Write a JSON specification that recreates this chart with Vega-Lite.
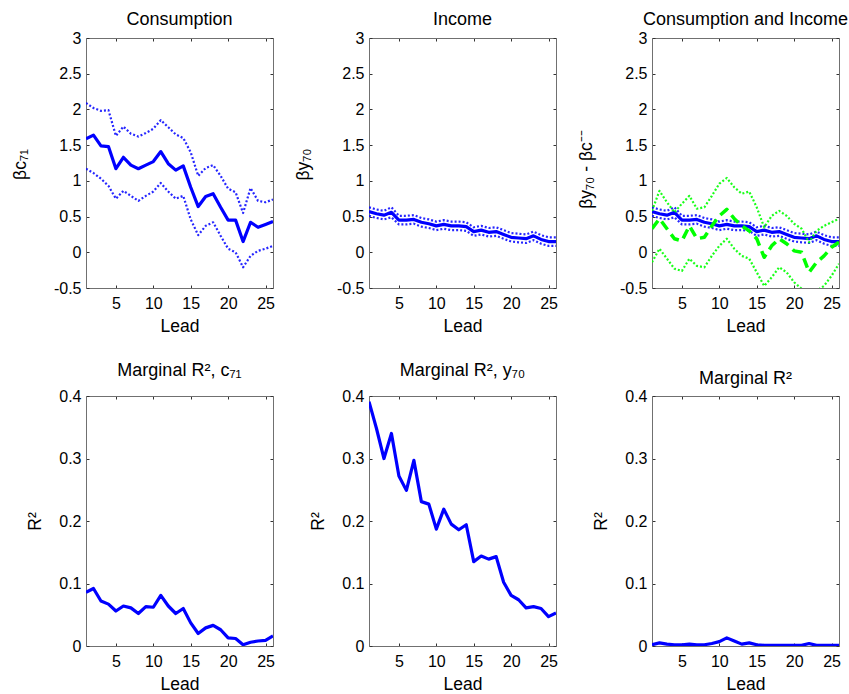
{
  "$schema": "https://vega.github.io/schema/vega-lite/v6.json",
  "background": "white",
  "padding": {"left": 11, "top": 11, "right": 0, "bottom": 0},
  "datasets": {
    "d": [
      {"lead":1,"c":1.59,"cu":2.09,"cl":1.17,"y":0.57,"yu":0.63,"yl":0.51,"g":0.33,"gu":0.58,"gl":-0.14,"r2c":0.086,"r2y":0.391,"r2":0.002},
      {"lead":2,"c":1.64,"cu":2.02,"cl":1.11,"y":0.54,"yu":0.60,"yl":0.48,"g":0.47,"gu":0.86,"gl":0.05,"r2c":0.092,"r2y":0.348,"r2":0.005},
      {"lead":3,"c":1.49,"cu":1.98,"cl":1.03,"y":0.52,"yu":0.58,"yl":0.46,"g":0.33,"gu":0.70,"gl":-0.09,"r2c":0.072,"r2y":0.300,"r2":0.003},
      {"lead":4,"c":1.48,"cu":1.99,"cl":0.93,"y":0.56,"yu":0.63,"yl":0.49,"g":0.19,"gu":0.56,"gl":-0.23,"r2c":0.067,"r2y":0.340,"r2":0.002},
      {"lead":5,"c":1.17,"cu":1.63,"cl":0.75,"y":0.45,"yu":0.51,"yl":0.39,"g":0.16,"gu":0.68,"gl":-0.26,"r2c":0.056,"r2y":0.272,"r2":0.002},
      {"lead":6,"c":1.33,"cu":1.76,"cl":0.86,"y":0.45,"yu":0.51,"yl":0.39,"g":0.37,"gu":0.79,"gl":-0.09,"r2c":0.064,"r2y":0.249,"r2":0.003},
      {"lead":7,"c":1.22,"cu":1.66,"cl":0.79,"y":0.46,"yu":0.52,"yl":0.40,"g":0.19,"gu":0.61,"gl":-0.19,"r2c":0.061,"r2y":0.297,"r2":0.002},
      {"lead":8,"c":1.17,"cu":1.62,"cl":0.72,"y":0.42,"yu":0.48,"yl":0.36,"g":0.21,"gu":0.63,"gl":-0.21,"r2c":0.052,"r2y":0.231,"r2":0.002},
      {"lead":9,"c":1.22,"cu":1.67,"cl":0.79,"y":0.40,"yu":0.46,"yl":0.34,"g":0.37,"gu":0.79,"gl":-0.05,"r2c":0.063,"r2y":0.227,"r2":0.004},
      {"lead":10,"c":1.27,"cu":1.73,"cl":0.85,"y":0.37,"yu":0.43,"yl":0.31,"g":0.51,"gu":0.96,"gl":0.09,"r2c":0.062,"r2y":0.187,"r2":0.007},
      {"lead":11,"c":1.41,"cu":1.85,"cl":0.97,"y":0.39,"yu":0.45,"yl":0.33,"g":0.60,"gu":1.04,"gl":0.19,"r2c":0.081,"r2y":0.219,"r2":0.013},
      {"lead":12,"c":1.24,"cu":1.75,"cl":0.85,"y":0.37,"yu":0.43,"yl":0.31,"g":0.47,"gu":0.91,"gl":0.05,"r2c":0.064,"r2y":0.195,"r2":0.008},
      {"lead":13,"c":1.15,"cu":1.65,"cl":0.75,"y":0.37,"yu":0.43,"yl":0.31,"g":0.37,"gu":0.82,"gl":-0.05,"r2c":0.052,"r2y":0.186,"r2":0.003},
      {"lead":14,"c":1.21,"cu":1.60,"cl":0.79,"y":0.36,"yu":0.42,"yl":0.30,"g":0.30,"gu":0.85,"gl":-0.09,"r2c":0.060,"r2y":0.194,"r2":0.005},
      {"lead":15,"c":0.91,"cu":1.40,"cl":0.46,"y":0.29,"yu":0.35,"yl":0.23,"g":0.19,"gu":0.63,"gl":-0.28,"r2c":0.037,"r2y":0.135,"r2":0.002},
      {"lead":16,"c":0.64,"cu":1.07,"cl":0.24,"y":0.31,"yu":0.37,"yl":0.25,"g":-0.07,"gu":0.35,"gl":-0.47,"r2c":0.020,"r2y":0.144,"r2":0.001},
      {"lead":17,"c":0.78,"cu":1.18,"cl":0.37,"y":0.28,"yu":0.34,"yl":0.22,"g":0.09,"gu":0.51,"gl":-0.35,"r2c":0.029,"r2y":0.139,"r2":0.001},
      {"lead":18,"c":0.82,"cu":1.22,"cl":0.42,"y":0.29,"yu":0.35,"yl":0.23,"g":0.19,"gu":0.58,"gl":-0.21,"r2c":0.033,"r2y":0.143,"r2":0.001},
      {"lead":19,"c":0.63,"cu":1.07,"cl":0.23,"y":0.25,"yu":0.31,"yl":0.19,"g":0.12,"gu":0.51,"gl":-0.28,"r2c":0.026,"r2y":0.102,"r2":0.001},
      {"lead":20,"c":0.45,"cu":0.89,"cl":0.05,"y":0.21,"yu":0.27,"yl":0.15,"g":0.02,"gu":0.40,"gl":-0.42,"r2c":0.013,"r2y":0.081,"r2":0.001},
      {"lead":21,"c":0.45,"cu":0.84,"cl":0.00,"y":0.20,"yu":0.26,"yl":0.14,"g":0.00,"gu":0.33,"gl":-0.51,"r2c":0.012,"r2y":0.074,"r2":0.001},
      {"lead":22,"c":0.15,"cu":0.55,"cl":-0.21,"y":0.19,"yu":0.25,"yl":0.13,"g":-0.28,"gu":0.14,"gl":-0.65,"r2c":0.002,"r2y":0.061,"r2":0.004},
      {"lead":23,"c":0.42,"cu":0.90,"cl":-0.05,"y":0.23,"yu":0.29,"yl":0.17,"g":-0.14,"gu":0.30,"gl":-0.54,"r2c":0.006,"r2y":0.063,"r2":0.001},
      {"lead":24,"c":0.35,"cu":0.72,"cl":0.02,"y":0.18,"yu":0.24,"yl":0.12,"g":-0.05,"gu":0.37,"gl":-0.47,"r2c":0.008,"r2y":0.060,"r2":0.001},
      {"lead":25,"c":0.39,"cu":0.70,"cl":0.05,"y":0.15,"yu":0.21,"yl":0.09,"g":0.07,"gu":0.42,"gl":-0.33,"r2c":0.009,"r2y":0.047,"r2":0.001},
      {"lead":26,"c":0.43,"cu":0.74,"cl":0.09,"y":0.15,"yu":0.21,"yl":0.09,"g":0.14,"gu":0.47,"gl":-0.16,"r2c":0.016,"r2y":0.053,"r2":0.001}
    ]
  },
  "data": {"name": "d"},
  "config": {
    "view": {"stroke": null},
    "font": "Liberation Sans",
    "axis": {
      "grid": false,
      "labelFont": "Liberation Sans",
      "labelFontSize": 16,
      "labelColor": "#000",
      "titleFont": "Liberation Sans",
      "titleFontSize": 17.5,
      "titleFontWeight": "normal",
      "titleColor": "#000",
      "tickSize": -3,
      "tickColor": "#333",
      "tickWidth": 1,
      "domainColor": "#707070",
      "domainWidth": 1,
      "labelFlush": false,
      "labelOverlap": false
    },
    "axisX": {"labelPadding": 10, "titleBaseline": "alphabetic", "titleAlign": "center"},
    "axisY": {"labelPadding": 8, "titleBaseline": "alphabetic", "titleAlign": "center", "titleAngle": -90,
      "labelExpr": "replace(format(datum.value, '~g'), '−', '-')"},
    "title": {"font": "Liberation Sans", "fontSize": 18, "fontWeight": "normal", "color": "#000", "anchor": "middle", "frame": "group", "baseline": "alphabetic"},
    "line": {"strokeCap": "butt", "strokeJoin": "round"}
  },
  "columns": 3,
  "spacing": {"row": 108, "column": 96},
  "bounds": "flush",
  "concat": [
    {
      "width": 187, "height": 250,
      "title": {"text": "Consumption", "offset": 1},
      "layer": [
        {"layer": [
          {"mark": {"type": "line", "color": "#0000ff", "strokeWidth": 2.2, "strokeDash": [2, 2], "opacity": 0.85, "clip": true},
           "encoding": {
             "x": {"field": "lead", "type": "quantitative", "scale": {"domain": [1, 26], "nice": false, "zero": false}, "axis": {"values": [5, 10, 15, 20, 25], "title": "Lead", "titleY": 43}},
             "y": {"field": "cu", "type": "quantitative", "scale": {"domain": [-0.5, 3], "nice": false, "zero": false}, "axis": {"values": [-0.5, 0, 0.5, 1, 1.5, 2, 2.5, 3], "title": "βc₇₁", "titleX": -61, "titleY": 126}}}},
          {"mark": {"type": "line", "color": "#0000ff", "strokeWidth": 2.2, "strokeDash": [2, 2], "opacity": 0.85, "clip": true},
           "encoding": {
             "x": {"field": "lead", "type": "quantitative", "scale": {"domain": [1, 26], "nice": false, "zero": false}, "axis": {"values": [5, 10, 15, 20, 25], "title": "Lead", "titleY": 43}},
             "y": {"field": "cl", "type": "quantitative", "scale": {"domain": [-0.5, 3], "nice": false, "zero": false}, "axis": {"values": [-0.5, 0, 0.5, 1, 1.5, 2, 2.5, 3], "title": "βc₇₁", "titleX": -61, "titleY": 126}}}},
          {"mark": {"type": "line", "color": "#0000ff", "strokeWidth": 3.2, "clip": true},
           "encoding": {
             "x": {"field": "lead", "type": "quantitative", "scale": {"domain": [1, 26], "nice": false, "zero": false}, "axis": {"values": [5, 10, 15, 20, 25], "title": "Lead", "titleY": 43}},
             "y": {"field": "c", "type": "quantitative", "scale": {"domain": [-0.5, 3], "nice": false, "zero": false}, "axis": {"values": [-0.5, 0, 0.5, 1, 1.5, 2, 2.5, 3], "title": "βc₇₁", "titleX": -61, "titleY": 126}}}}
        ]},
        {"mark": {"type": "point", "opacity": 0},
         "encoding": {
           "x": {"field": "lead", "type": "quantitative", "scale": {"domain": [1, 26], "nice": false, "zero": false}, "axis": {"orient": "top", "values": [5, 10, 15, 20, 25], "labels": false, "title": null}},
           "y": {"field": "c", "type": "quantitative", "scale": {"domain": [-0.5, 3], "nice": false, "zero": false}, "axis": {"orient": "right", "values": [-0.5, 0, 0.5, 1, 1.5, 2, 2.5, 3], "labels": false, "title": null}}}}
      ],
      "resolve": {"scale": {"x": "independent", "y": "independent"}}
    },
    {
      "width": 187, "height": 250,
      "title": {"text": "Income", "offset": 1},
      "layer": [
        {"layer": [
          {"mark": {"type": "line", "color": "#0000ff", "strokeWidth": 2.2, "strokeDash": [2, 2], "opacity": 0.85, "clip": true},
           "encoding": {
             "x": {"field": "lead", "type": "quantitative", "scale": {"domain": [1, 26], "nice": false, "zero": false}, "axis": {"values": [5, 10, 15, 20, 25], "title": "Lead", "titleY": 43}},
             "y": {"field": "yu", "type": "quantitative", "scale": {"domain": [-0.5, 3], "nice": false, "zero": false}, "axis": {"values": [-0.5, 0, 0.5, 1, 1.5, 2, 2.5, 3], "title": "βy₇₀", "titleX": -61, "titleY": 126}}}},
          {"mark": {"type": "line", "color": "#0000ff", "strokeWidth": 2.2, "strokeDash": [2, 2], "opacity": 0.85, "clip": true},
           "encoding": {
             "x": {"field": "lead", "type": "quantitative", "scale": {"domain": [1, 26], "nice": false, "zero": false}, "axis": {"values": [5, 10, 15, 20, 25], "title": "Lead", "titleY": 43}},
             "y": {"field": "yl", "type": "quantitative", "scale": {"domain": [-0.5, 3], "nice": false, "zero": false}, "axis": {"values": [-0.5, 0, 0.5, 1, 1.5, 2, 2.5, 3], "title": "βy₇₀", "titleX": -61, "titleY": 126}}}},
          {"mark": {"type": "line", "color": "#0000ff", "strokeWidth": 3.2, "clip": true},
           "encoding": {
             "x": {"field": "lead", "type": "quantitative", "scale": {"domain": [1, 26], "nice": false, "zero": false}, "axis": {"values": [5, 10, 15, 20, 25], "title": "Lead", "titleY": 43}},
             "y": {"field": "y", "type": "quantitative", "scale": {"domain": [-0.5, 3], "nice": false, "zero": false}, "axis": {"values": [-0.5, 0, 0.5, 1, 1.5, 2, 2.5, 3], "title": "βy₇₀", "titleX": -61, "titleY": 126}}}}
        ]},
        {"mark": {"type": "point", "opacity": 0},
         "encoding": {
           "x": {"field": "lead", "type": "quantitative", "scale": {"domain": [1, 26], "nice": false, "zero": false}, "axis": {"orient": "top", "values": [5, 10, 15, 20, 25], "labels": false, "title": null}},
           "y": {"field": "y", "type": "quantitative", "scale": {"domain": [-0.5, 3], "nice": false, "zero": false}, "axis": {"orient": "right", "values": [-0.5, 0, 0.5, 1, 1.5, 2, 2.5, 3], "labels": false, "title": null}}}}
      ],
      "resolve": {"scale": {"x": "independent", "y": "independent"}}
    },
    {
      "width": 187, "height": 250,
      "title": {"text": "Consumption and Income", "offset": 1},
      "layer": [
        {"layer": [
          {"mark": {"type": "line", "color": "#0000ff", "strokeWidth": 2.2, "strokeDash": [2, 2], "opacity": 0.85, "clip": true},
           "encoding": {
             "x": {"field": "lead", "type": "quantitative", "scale": {"domain": [1, 26], "nice": false, "zero": false}, "axis": {"values": [5, 10, 15, 20, 25], "title": "Lead", "titleY": 43}},
             "y": {"field": "yu", "type": "quantitative", "scale": {"domain": [-0.5, 3], "nice": false, "zero": false}, "axis": {"values": [-0.5, 0, 0.5, 1, 1.5, 2, 2.5, 3], "title": "βy₇₀ -  βc⁻⁻", "titleX": -61, "titleY": 131}}}},
          {"mark": {"type": "line", "color": "#0000ff", "strokeWidth": 2.2, "strokeDash": [2, 2], "opacity": 0.85, "clip": true},
           "encoding": {
             "x": {"field": "lead", "type": "quantitative", "scale": {"domain": [1, 26], "nice": false, "zero": false}, "axis": {"values": [5, 10, 15, 20, 25], "title": "Lead", "titleY": 43}},
             "y": {"field": "yl", "type": "quantitative", "scale": {"domain": [-0.5, 3], "nice": false, "zero": false}, "axis": {"values": [-0.5, 0, 0.5, 1, 1.5, 2, 2.5, 3], "title": "βy₇₀ -  βc⁻⁻", "titleX": -61, "titleY": 131}}}},
          {"mark": {"type": "line", "color": "#0000ff", "strokeWidth": 3.2, "clip": true},
           "encoding": {
             "x": {"field": "lead", "type": "quantitative", "scale": {"domain": [1, 26], "nice": false, "zero": false}, "axis": {"values": [5, 10, 15, 20, 25], "title": "Lead", "titleY": 43}},
             "y": {"field": "y", "type": "quantitative", "scale": {"domain": [-0.5, 3], "nice": false, "zero": false}, "axis": {"values": [-0.5, 0, 0.5, 1, 1.5, 2, 2.5, 3], "title": "βy₇₀ -  βc⁻⁻", "titleX": -61, "titleY": 131}}}},
          {"mark": {"type": "line", "color": "#00ff00", "strokeWidth": 2.2, "strokeDash": [2, 2], "opacity": 0.9, "clip": true},
           "encoding": {
             "x": {"field": "lead", "type": "quantitative", "scale": {"domain": [1, 26], "nice": false, "zero": false}, "axis": {"values": [5, 10, 15, 20, 25], "title": "Lead", "titleY": 43}},
             "y": {"field": "gu", "type": "quantitative", "scale": {"domain": [-0.5, 3], "nice": false, "zero": false}, "axis": {"values": [-0.5, 0, 0.5, 1, 1.5, 2, 2.5, 3], "title": "βy₇₀ -  βc⁻⁻", "titleX": -61, "titleY": 131}}}},
          {"mark": {"type": "line", "color": "#00ff00", "strokeWidth": 2.2, "strokeDash": [2, 2], "opacity": 0.9, "clip": true},
           "encoding": {
             "x": {"field": "lead", "type": "quantitative", "scale": {"domain": [1, 26], "nice": false, "zero": false}, "axis": {"values": [5, 10, 15, 20, 25], "title": "Lead", "titleY": 43}},
             "y": {"field": "gl", "type": "quantitative", "scale": {"domain": [-0.5, 3], "nice": false, "zero": false}, "axis": {"values": [-0.5, 0, 0.5, 1, 1.5, 2, 2.5, 3], "title": "βy₇₀ -  βc⁻⁻", "titleX": -61, "titleY": 131}}}},
          {"mark": {"type": "line", "color": "#00ff00", "strokeWidth": 3.5, "strokeDash": [10, 6], "clip": true},
           "encoding": {
             "x": {"field": "lead", "type": "quantitative", "scale": {"domain": [1, 26], "nice": false, "zero": false}, "axis": {"values": [5, 10, 15, 20, 25], "title": "Lead", "titleY": 43}},
             "y": {"field": "g", "type": "quantitative", "scale": {"domain": [-0.5, 3], "nice": false, "zero": false}, "axis": {"values": [-0.5, 0, 0.5, 1, 1.5, 2, 2.5, 3], "title": "βy₇₀ -  βc⁻⁻", "titleX": -61, "titleY": 131}}}}
        ]},
        {"mark": {"type": "point", "opacity": 0},
         "encoding": {
           "x": {"field": "lead", "type": "quantitative", "scale": {"domain": [1, 26], "nice": false, "zero": false}, "axis": {"orient": "top", "values": [5, 10, 15, 20, 25], "labels": false, "title": null}},
           "y": {"field": "y", "type": "quantitative", "scale": {"domain": [-0.5, 3], "nice": false, "zero": false}, "axis": {"orient": "right", "values": [-0.5, 0, 0.5, 1, 1.5, 2, 2.5, 3], "labels": false, "title": null}}}}
      ],
      "resolve": {"scale": {"x": "independent", "y": "independent"}}
    },
    {
      "width": 187, "height": 250,
      "title": {"text": "Marginal R², c₇₁", "offset": 8},
      "layer": [
        {"mark": {"type": "line", "color": "#0000ff", "strokeWidth": 3.2, "clip": true},
         "encoding": {
           "x": {"field": "lead", "type": "quantitative", "scale": {"domain": [1, 26], "nice": false, "zero": false}, "axis": {"values": [5, 10, 15, 20, 25], "title": "Lead", "titleY": 43}},
           "y": {"field": "r2c", "type": "quantitative", "scale": {"domain": [0, 0.4], "nice": false}, "axis": {"values": [0, 0.1, 0.2, 0.3, 0.4], "title": "R²", "titleX": -46, "titleY": 125}}}},
        {"mark": {"type": "point", "opacity": 0},
         "encoding": {
           "x": {"field": "lead", "type": "quantitative", "scale": {"domain": [1, 26], "nice": false, "zero": false}, "axis": {"orient": "top", "values": [5, 10, 15, 20, 25], "labels": false, "title": null}},
           "y": {"field": "r2c", "type": "quantitative", "scale": {"domain": [0, 0.4], "nice": false}, "axis": {"orient": "right", "values": [0, 0.1, 0.2, 0.3, 0.4], "labels": false, "title": null}}}}
      ],
      "resolve": {"scale": {"x": "independent", "y": "independent"}}
    },
    {
      "width": 187, "height": 250,
      "title": {"text": "Marginal R², y₇₀", "offset": 8},
      "layer": [
        {"mark": {"type": "line", "color": "#0000ff", "strokeWidth": 3.2, "clip": true},
         "encoding": {
           "x": {"field": "lead", "type": "quantitative", "scale": {"domain": [1, 26], "nice": false, "zero": false}, "axis": {"values": [5, 10, 15, 20, 25], "title": "Lead", "titleY": 43}},
           "y": {"field": "r2y", "type": "quantitative", "scale": {"domain": [0, 0.4], "nice": false}, "axis": {"values": [0, 0.1, 0.2, 0.3, 0.4], "title": "R²", "titleX": -46, "titleY": 125}}}},
        {"mark": {"type": "point", "opacity": 0},
         "encoding": {
           "x": {"field": "lead", "type": "quantitative", "scale": {"domain": [1, 26], "nice": false, "zero": false}, "axis": {"orient": "top", "values": [5, 10, 15, 20, 25], "labels": false, "title": null}},
           "y": {"field": "r2y", "type": "quantitative", "scale": {"domain": [0, 0.4], "nice": false}, "axis": {"orient": "right", "values": [0, 0.1, 0.2, 0.3, 0.4], "labels": false, "title": null}}}}
      ],
      "resolve": {"scale": {"x": "independent", "y": "independent"}}
    },
    {
      "width": 187, "height": 250,
      "title": {"text": "Marginal R²", "offset": 0},
      "layer": [
        {"mark": {"type": "line", "color": "#0000ff", "strokeWidth": 3.2, "clip": true},
         "encoding": {
           "x": {"field": "lead", "type": "quantitative", "scale": {"domain": [1, 26], "nice": false, "zero": false}, "axis": {"values": [5, 10, 15, 20, 25], "title": "Lead", "titleY": 43}},
           "y": {"field": "r2", "type": "quantitative", "scale": {"domain": [0, 0.4], "nice": false}, "axis": {"values": [0, 0.1, 0.2, 0.3, 0.4], "title": "R²", "titleX": -46, "titleY": 125}}}},
        {"mark": {"type": "point", "opacity": 0},
         "encoding": {
           "x": {"field": "lead", "type": "quantitative", "scale": {"domain": [1, 26], "nice": false, "zero": false}, "axis": {"orient": "top", "values": [5, 10, 15, 20, 25], "labels": false, "title": null}},
           "y": {"field": "r2", "type": "quantitative", "scale": {"domain": [0, 0.4], "nice": false}, "axis": {"orient": "right", "values": [0, 0.1, 0.2, 0.3, 0.4], "labels": false, "title": null}}}}
      ],
      "resolve": {"scale": {"x": "independent", "y": "independent"}}
    }
  ]
}
